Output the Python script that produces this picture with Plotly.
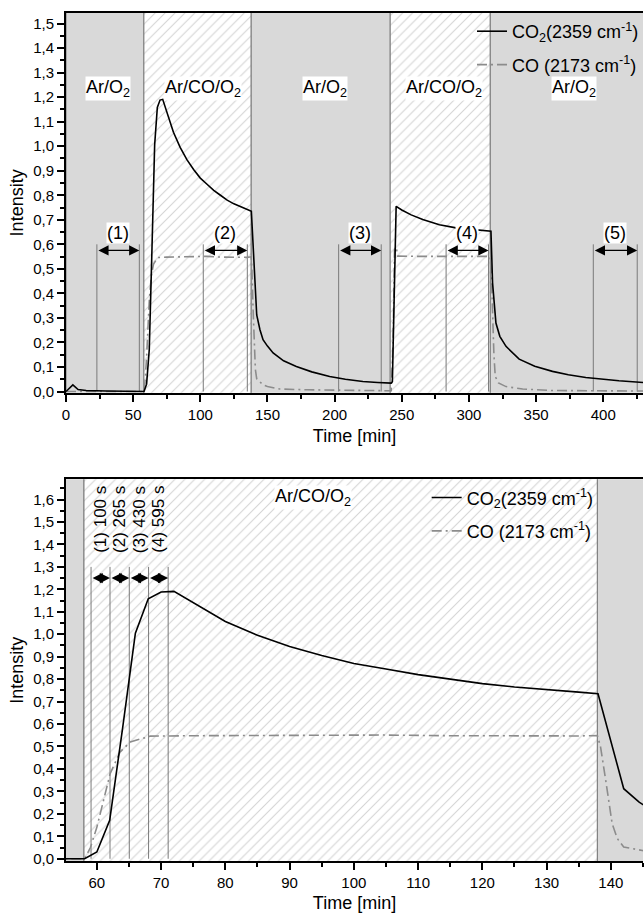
import plotly.graph_objects as go

# gas switching sequence [min]
phase_edges = [0, 58.0, 137.9, 241.4, 315.9, 430]
phase_gas = ["Ar/O<sub>2</sub>", "Ar/CO/O<sub>2</sub>", "Ar/O<sub>2</sub>",
             "Ar/CO/O<sub>2</sub>", "Ar/O<sub>2</sub>"]
phase_label_x = [31.6, 102.2, 192.6, 281.7, 378.3]

# evaluation windows (1)-(5) in the overview
window_names = ["(1)", "(2)", "(3)", "(4)", "(5)"]
window_start = [23.0, 102.2, 203.0, 283.0, 392.6]
window_end = [54.6, 135.0, 234.7, 314.6, 425.3]

# time steps in the zoomed panel
step_times = [59.1, 62.05, 65.05, 68.05, 71.1]
step_names = ["(1) 100 s", "(2) 265 s", "(3) 430 s", "(4) 595 s"]

# CO2 band 2359 cm-1
co2_time = [0, 2, 5.1, 9, 15, 30, 45, 58.1, 60, 62, 64, 66, 68, 70, 72, 76, 80, 85,
            90, 95, 100, 105, 110, 115, 120, 125, 130, 135, 138, 140.2, 142, 144.4,
            146.7, 150, 154.2, 162, 171.5, 183, 196.3, 208, 221, 232, 242.1, 243,
            245.8, 250, 257, 265.6, 278, 290.4, 300, 309, 315.6, 316.4, 317.6, 320.1,
            323, 327.6, 337.4, 349, 362.2, 374, 387, 399, 411.7, 429.6]
co2_int = [0.0, 0.01, 0.027, 0.008, 0.004, 0.002, 0.001, 0.0, 0.03, 0.171, 0.58, 1.005,
           1.158, 1.188, 1.191, 1.125, 1.057, 0.995, 0.945, 0.905, 0.87, 0.845, 0.82,
           0.80, 0.78, 0.765, 0.752, 0.742, 0.735, 0.497, 0.312, 0.252, 0.211, 0.185,
           0.157, 0.125, 0.102, 0.08, 0.061, 0.05, 0.041, 0.037, 0.034, 0.04, 0.755,
           0.74, 0.72, 0.701, 0.68, 0.667, 0.661, 0.657, 0.654, 0.653, 0.442, 0.279,
           0.225, 0.184, 0.132, 0.103, 0.082, 0.068, 0.057, 0.05, 0.044, 0.037]

# CO band 2173 cm-1
co_time = [0, 57, 58.1, 59, 60, 62.07, 63.6, 65.2, 68.3, 75, 85, 95, 105, 115, 125, 135,
           137.9, 138.4, 139.2, 140.2, 141, 142, 144.9, 146.7, 150, 159.1, 180, 210,
           242.1, 243.5, 244.6, 245.8, 247, 260, 280, 300, 315.6, 316.6, 317.6, 318.6,
           319.6, 322, 327.6, 340, 362, 400, 429.6]
co_int = [0.0, 0.0, 0.0, 0.05, 0.14, 0.379, 0.475, 0.52, 0.546, 0.548, 0.55, 0.552,
          0.551, 0.548, 0.546, 0.547, 0.549, 0.497, 0.349, 0.156, 0.09, 0.052, 0.037,
          0.027, 0.02, 0.01, 0.007, 0.005, 0.003, 0.2, 0.578, 0.59, 0.552, 0.551, 0.55,
          0.551, 0.551, 0.5, 0.306, 0.15, 0.061, 0.035, 0.02, 0.01, 0.004, 0.003, 0.002]

FONT = "Liberation Sans, Arial, sans-serif"
GREY = "#d9d9d9"
EDGE = "#7a7a7a"

fig = go.Figure()


def add_phases(xa, ya):
    # grey = Ar/O2, hatched = Ar/CO/O2
    for i, gas in enumerate(phase_gas):
        x0, x1 = phase_edges[i], phase_edges[i + 1]
        hatched = "CO" in gas
        fig.add_trace(go.Scatter(
            x=[x0, x1, x1, x0, x0], y=[-1, -1, 3, 3, -1],
            mode="lines", fill="toself",
            line=dict(color=EDGE, width=1),
            fillcolor="white" if hatched else GREY,
            fillpattern=dict(shape="/", fgcolor="#a8a8a8", bgcolor="white",
                             size=7, solidity=0.15) if hatched else None,
            hoverinfo="skip", showlegend=False, xaxis=xa, yaxis=ya))


def add_curves(xa, ya, legend):
    fig.add_trace(go.Scatter(
        x=co_time, y=co_int, mode="lines", name="CO (2173 cm<sup>-1</sup>)",
        line=dict(color="#8c8c8c", width=1.6, dash="10px,4px,2px,4px"),
        legend=legend, legendgroup="co", legendrank=2, xaxis=xa, yaxis=ya))
    fig.add_trace(go.Scatter(
        x=co2_time, y=co2_int, mode="lines", name="CO<sub>2</sub>(2359 cm<sup>-1</sup>)",
        line=dict(color="black", width=1.6),
        legend=legend, legendgroup="co2", legendrank=1, xaxis=xa, yaxis=ya))


# ---- overview panel ----
add_phases("x", "y")
vx, vy = [], []
for a, b in zip(window_start, window_end):
    vx += [a, a, None, b, b, None]
    vy += [0, 0.6, None, 0, 0.6, None]
fig.add_trace(go.Scatter(x=vx, y=vy, mode="lines", line=dict(color=EDGE, width=1),
                         hoverinfo="skip", showlegend=False, xaxis="x", yaxis="y"))
add_curves("x", "y", "legend")

# ---- zoomed panel ----
add_phases("x2", "y2")
sx, sy = [], []
for t in step_times:
    sx += [t, t, None]
    sy += [0, 1.3, None]
fig.add_trace(go.Scatter(x=sx, y=sy, mode="lines", line=dict(color=EDGE, width=1),
                         hoverinfo="skip", showlegend=False, xaxis="x2", yaxis="y2"))
add_curves("x2", "y2", "legend2")

annotations = []
for gas, lx in zip(phase_gas, phase_label_x):
    annotations.append(dict(x=lx, y=1.235, xref="x", yref="y", text=gas,
                            showarrow=False, bgcolor="white", borderpad=0,
                            font=dict(size=18, color="black")))
for name, a, b in zip(window_names, window_start, window_end):
    annotations.append(dict(x=b, y=0.575, ax=a, ay=0.575, xref="x", yref="y",
                            axref="x", ayref="y", text="", showarrow=True,
                            arrowhead=2, arrowside="end+start", arrowsize=1.7,
                            arrowwidth=1.2, arrowcolor="black"))
    annotations.append(dict(x=(a + b) / 2, y=0.645, xref="x", yref="y", text=name,
                            showarrow=False, bgcolor="white", borderpad=0,
                            font=dict(size=18, color="black")))
for i, name in enumerate(step_names):
    a, b = step_times[i], step_times[i + 1]
    annotations.append(dict(x=b, y=1.25, ax=a, ay=1.25, xref="x2", yref="y2",
                            axref="x2", ayref="y2", text="", showarrow=True,
                            arrowhead=2, arrowside="end+start", arrowsize=1.7,
                            arrowwidth=1.2, arrowcolor="black"))
    annotations.append(dict(x=(a + b) / 2, y=1.512, xref="x2", yref="y2", text=name,
                            textangle=-90, showarrow=False,
                            font=dict(size=17, color="black")))
annotations.append(dict(x=93.7, y=1.61, xref="x2", yref="y2", text=phase_gas[1],
                        showarrow=False, bgcolor="white", borderpad=0,
                        font=dict(size=18, color="black")))

axis_common = dict(showline=True, linecolor="black", linewidth=2, ticks="outside",
                   ticklen=7, tickwidth=1.5, tickcolor="black", showgrid=False,
                   zeroline=False, tickfont=dict(size=15, color="black"),
                   title_font=dict(size=18, color="black"))

fig.update_layout(
    width=644, height=914,
    margin=dict(l=66, r=0, t=13, b=53),
    paper_bgcolor="white", plot_bgcolor="white",
    font=dict(family=FONT, color="black"),
    separators=",.",
    annotations=annotations,
    xaxis=dict(axis_common, domain=[0, 1], anchor="y", range=[0, 429.6], dtick=50,
               mirror=True, minor=dict(ticks="outside", ticklen=4, dtick=25,
                                       tickcolor="black"),
               title=dict(text="Time [min]", standoff=8)),
    yaxis=dict(axis_common, domain=[0.5522, 1], anchor="x", range=[-0.005, 1.543],
               dtick=0.1, tickformat=".1f",
               minor=dict(ticks="outside", ticklen=4, dtick=0.05, tickcolor="black"),
               title=dict(text="Intensity", standoff=5)),
    xaxis2=dict(axis_common, domain=[0, 1], anchor="y2", range=[55.2, 145], dtick=10,
                mirror=True, minor=dict(ticks="outside", ticklen=4, dtick=5,
                                        tickcolor="black"),
                title=dict(text="Time [min]", standoff=6)),
    yaxis2=dict(axis_common, domain=[0, 0.4501], anchor="x2", range=[-0.01, 1.69],
                dtick=0.1, tickformat=".1f",
                minor=dict(ticks="outside", ticklen=4, dtick=0.05, tickcolor="black"),
                title=dict(text="Intensity", standoff=5)),
    legend=dict(x=0.704, y=1.0, xanchor="left", yanchor="top",
                bgcolor="rgba(0,0,0,0)", font=dict(size=18, color="black"),
                traceorder="grouped", tracegroupgap=7, itemclick=False),
    legend2=dict(x=0.624, y=0.4501, xanchor="left", yanchor="top",
                 bgcolor="rgba(0,0,0,0)", font=dict(size=18, color="black"),
                 traceorder="grouped", tracegroupgap=7, itemclick=False),
)

# page has a default 8px body margin; drop it so the figure sits at the corner
fig.write_html("out.html", config={"displayModeBar": False},
               post_script="document.body.style.margin='0';"
                           "document.body.style.overflow='hidden';")
